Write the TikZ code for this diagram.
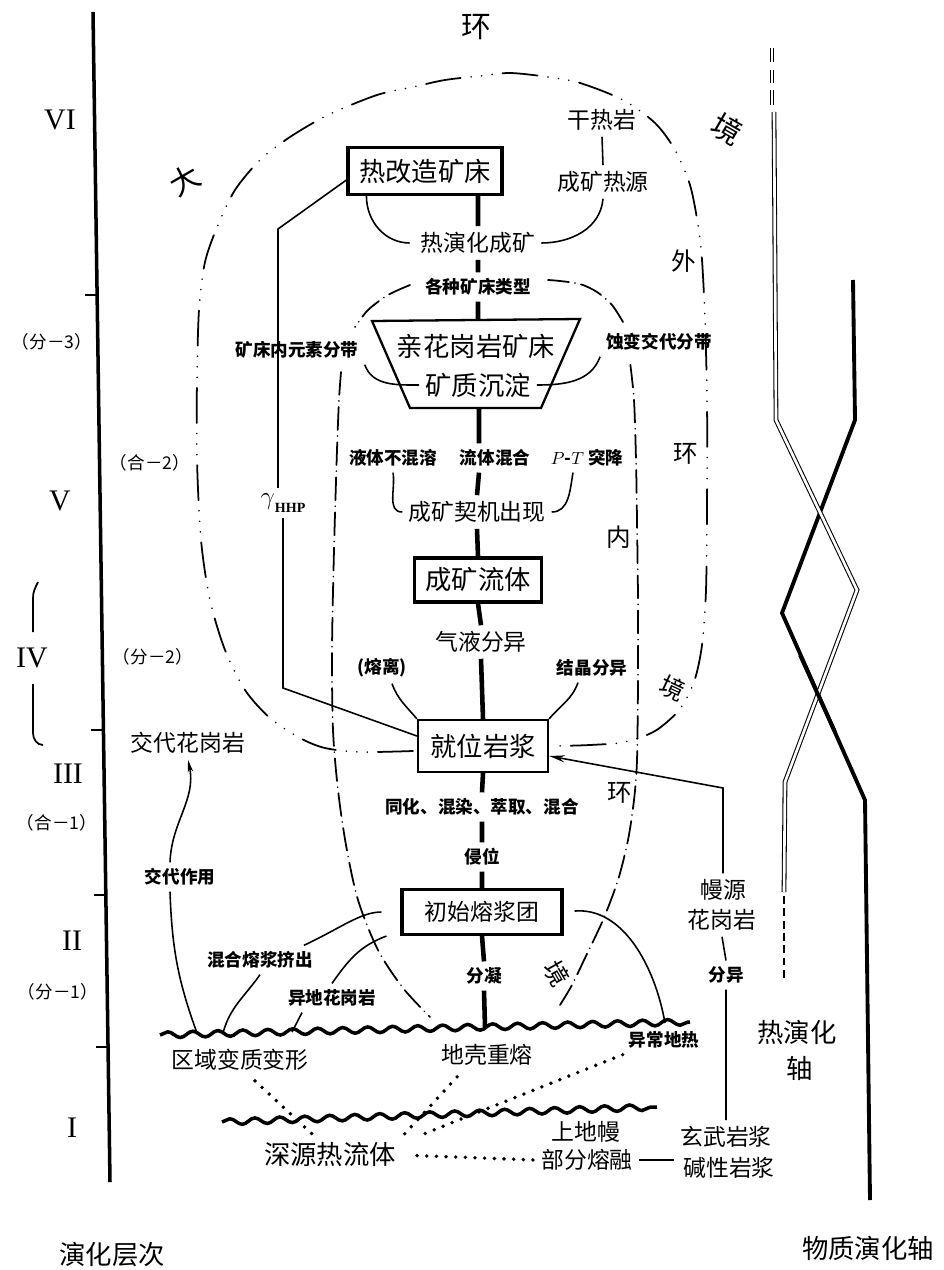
\documentclass[tikz,border=0pt]{standalone}
\usepackage{fontspec}
\setmainfont{Noto Sans CJK SC}
\newfontfamily\romanfont{Liberation Serif}
\usetikzlibrary{arrows.meta,decorations.pathmorphing}

\begin{document}
\begin{tikzpicture}[x=0.02cm,y=-0.02cm,
  txtbig/.style={font=\fontsize{15}{17}\selectfont},
  txtmid/.style={font=\fontsize{13}{15}\selectfont},
  txtsml/.style={font=\bfseries\fontsize{10}{12}\selectfont},
  txtenv/.style={font=\fontsize{14}{16}\selectfont},
  txtouter/.style={font=\fontsize{17}{19}\selectfont},
  txtlevel/.style={font=\romanfont\fontsize{17}{19}\selectfont},
  txtsub/.style={font=\fontsize{10}{12}\selectfont},
  plainbox/.style={draw,line width=1.3pt},
  heavybox/.style={draw,line width=1.8pt},
  trunk/.style={line width=2.6pt},
  link/.style={line width=0.9pt},
  bigenv/.style={line width=1pt,line cap=round,
    dash pattern=on 20pt off 6pt on 0pt off 6pt on 0pt off 6pt on 0pt off 6pt},
  smallenv/.style={line width=1pt,line cap=round,
    dash pattern=on 13pt off 3.5pt on 0pt off 3.5pt},
  crust/.style={line width=2pt,decorate,
    decoration={snake,segment length=0.5cm,amplitude=0.06cm}},
  dotrow/.style={line width=2.2pt,line cap=round,dash pattern=on 0pt off 5.5pt}]
\useasboundingbox (0,0) rectangle (943,1270);

% axis of levels
\draw[line width=2pt] (93,12) -- (110,1182);
\foreach \y/\x in {295/97,730/103,895/106,1047/108}
  \draw[line width=1.2pt] (\x-12,\y) -- (\x,\y);
\draw[line width=1pt] (38,582) to[out=-115,in=90] (33,598) -- (33,632);
\draw[line width=1pt] (33,684) -- (33,733) to[out=-90,in=180] (43,745);

\node[txtlevel] (l6) at (60,120) {VI};
\node[txtsub] (f3) at (52,342) {（分－3）};
\node[txtsub] (h2) at (150,463) {（合－2）};
\node[txtlevel] (l5) at (60,501) {V};
\node[txtlevel] (l4) at (32,658) {IV};
\node[txtsub] (f2) at (153,657) {（分－2）};
\node[txtlevel] (l3) at (68,774) {III};
\node[txtsub] (h1) at (57,823) {（合－1）};
\node[txtlevel] (l2) at (72,941) {II};
\node[txtsub] (f1) at (58,992) {（分－1）};
\node[txtlevel] (l1) at (72,1128) {I};
\node[txtbig] (cc) at (112,1255) {演化层次};

% environment boundaries
\draw[bigenv] plot[smooth] coordinates {(413,751) (360,752) (325,748) (300,738)
  (270,718) (245,690) (225,650) (210,600) (201,540) (197,460) (197,380) (199,310)
  (205,262) (218,225) (235,190) (260,160) (290,137) (328,115) (377,95) (413,87)
  (445,80) (480,76) (510,73) (548,77) (580,83) (623,100) (655,123) (675,150)
  (690,185) (698,225) (702,260) (705,320) (707,400) (707,500) (706,590) (702,645)
  (694,682) (679,710) (655,731) (625,742) (590,745) (556,746)};
\draw[smallenv] plot[smooth] coordinates {(560,1005) (572,985) (585,958) (603,920)
  (618,880) (628,840) (634,800) (637,760) (638,680) (638,600) (637,520) (636,460)
  (634,400) (630,362)};
\draw[smallenv] plot[smooth] coordinates {(623,322) (612,305) (597,292) (580,284)
  (560,281) (548,280)};
\draw[smallenv] plot[smooth] coordinates {(410,285) (388,295) (368,310) (355,327)};
\draw[smallenv] plot[smooth] coordinates {(341,372) (339,400) (337,450) (334,550)
  (332,650) (333,730) (338,790) (346,845) (358,900) (378,950) (403,988) (430,1017)};

\node[txtouter,rotate=30] (e1) at (185,180) {大};
\node[txtouter] (e2) at (476,27) {环};
\node[txtouter,rotate=-30] (e3) at (727,129) {境};
\node[txtenv] (w1) at (684,261) {外};
\node[txtenv] (w2) at (686,454) {环};
\node[txtenv,rotate=-25] (w3) at (673,688) {境};
\node[txtenv] (n1) at (619,537) {内};
\node[txtenv] (n2) at (620,793) {环};
\node[txtenv,rotate=-60] (n3) at (557,973) {境};

% main column
\node[heavybox,txtbig,minimum width=3.08cm,minimum height=0.94cm] (hgz) at (425,171) {热改造矿床};
\node[txtmid] (grs) at (602,120) {干热岩};
\node[txtmid] (crs) at (603,182) {成矿热源};
\node[txtmid] (ryh) at (478,243) {热演化成矿};
\node[txtsml] (gzl) at (478,287) {各种矿床类型};
\coordinate (ttop) at (478,320);
\coordinate (tbot) at (479,408);
\draw[line width=1.3pt] (372,321) -- (580,319) -- (541,408) -- (410,408) -- cycle;
\node[txtbig] (qhg) at (476,346) {亲花岗岩矿床};
\node[txtbig] (kzc) at (478,385) {矿质沉淀};
\node[txtsml] (ysfd) at (297,350) {矿床内元素分带};
\node[txtsml] (sbjd) at (659,342) {蚀变交代分带};
\node[txtsml] (ybh) at (393,458) {液体不混溶};
\node[txtsml] (lth) at (495,458) {流体混合};
\node[txtsml] (pt) at (587,458) {$P$-$T$ 突降};
\node[txtmid] (qjcx) at (477,512) {成矿契机出现};
\node[heavybox,txtbig,minimum width=2.54cm,minimum height=0.88cm] (clt) at (478,580) {成矿流体};
\node[txtmid] (qyfy) at (481,642) {气液分异};
\node[txtsml] (rl) at (382,668) {(熔离)};
\node[txtsml] (jjfy) at (592,668) {结晶分异};
\node[plainbox,txtbig,minimum width=2.6cm,minimum height=1.04cm] (jwyj) at (483,746) {就位岩浆};
\node[txtsml] (thr) at (482,807) {同化、混染、萃取、混合};
\node[txtsml] (qw) at (482,857) {侵位};
\node[heavybox,txtmid,minimum width=3.2cm,minimum height=0.9cm] (csrj) at (482,912) {初始熔浆团};
\node[txtsml] (fn) at (484,976) {分凝};
\node[font=\fontsize{15}{17}\selectfont] (gam) at (283,503)
  {$\gamma$\raisebox{-0.5ex}{\romanfont\bfseries\fontsize{8}{9}\selectfont HHP}};

% lower part
\node[txtmid] (jdhgy) at (188,743) {交代花岗岩};
\node[txtsml] (jdzy) at (180,877) {交代作用};
\node[txtsml] (hhjc) at (260,960) {混合熔浆挤出};
\node[txtsml] (ydhgy) at (332,998) {异地花岗岩};
\node[txtmid] (qybz) at (240,1060) {区域变质变形};
\node[txtmid] (dkcr) at (487,1055) {地壳重熔};
\node[txtsml] (ycdr) at (664,1040) {异常地热};
\node[txtbig] (syrl) at (330,1155) {深源热流体};
\node[txtmid] (sdm) at (586,1132) {上地幔};
\node[txtmid] (bfrr) at (587,1160) {部分熔融};
\node[txtmid] (xwyj) at (726,1137) {玄武岩浆};
\node[txtmid] (jxyj) at (729,1168) {碱性岩浆};
\node[txtmid] (my) at (723,890) {幔源};
\node[txtmid] (hgy) at (722,920) {花岗岩};
\node[txtsml] (fy) at (726,975) {分异};
\node[txtbig] (ryz1) at (797,1032) {热演化};
\node[txtbig] (ryz2) at (800,1068) {轴};
\node[txtbig] (wzz) at (868,1248) {物质演化轴};

% crust and mantle
\draw[crust] (160,1035) -- (690,1022);
\draw[crust] (222,1122) -- (657,1107);
\coordinate (c1) at (197,1033);
\coordinate (c2) at (223,1033);
\coordinate (c3) at (292,1032);
\coordinate (crmid) at (485,1027);
\coordinate (c4) at (665,1023);

% trunk
\draw[trunk] (hgz.south -| ryh.north) -- (ryh.north)
  (ryh.south) -- (gzl.north)
  (gzl.south) -- (ttop)
  (tbot) -- (tbot |- lth.north)
  (tbot |- lth.south) -- (qjcx.north)
  (qjcx.south) -- (clt.north)
  (clt.south) -- (qyfy.north)
  (qyfy.south) -- (jwyj.north)
  (jwyj.south) -- (thr.north)
  (thr.south) -- (qw.north)
  (qw.south) -- (csrj.north)
  (csrj.south) -- (fn.north)
  (fn.south) -- (crmid);

% side links
\draw[link] ([xshift=0.4cm]hgz.south west) to[out=-90,in=180] ([xshift=-0.1cm]ryh.west);
\draw[link] (grs.south) -- (crs.north);
\draw[link] (crs.south) to[out=-95,in=0] (ryh.east);
\draw[link] (ysfd.south east) to[out=-70,in=180] (kzc.west);
\draw[link] (sbjd.south west) to[out=-110,in=0] (kzc.east);
\draw[link] (ybh.south) to[out=-80,in=180] (qjcx.west);
\draw[link] ([xshift=-0.28cm]pt.south) to[out=-100,in=0] (qjcx.east);
\draw[link] ([xshift=0.2cm]rl.south) to[out=-70,in=130] (jwyj.north west);
\draw[link] ([xshift=-0.28cm]jjfy.south) to[out=-110,in=50] (jwyj.north east);
\coordinate (g1) at (278,229);
\coordinate (g2) at (283,688);
\draw[link] ([yshift=-0.18cm]hgz.west) -- (g1) -- (gam.north -| g1)
  (gam.south -| g2) -- (g2) -- ([yshift=0.2cm]jwyj.west);
\coordinate (m1) at (723,788);
\draw[link,-{Stealth[length=9pt,width=4pt]}] (my.north) -- (m1) -- ([yshift=-0.2cm]jwyj.east);
\draw[link] (hgy.south) -- (fy.north) (fy.south) -- (xwyj.north);
\draw[link] (bfrr.east) -- (bfrr.east -| xwyj.west);
\draw[link,-{Stealth[length=7pt,width=3pt]}] ([xshift=-0.2cm]jdzy.north) to[out=88,in=-78] (jdhgy.south);
\draw[link] ([xshift=-0.2cm]jdzy.south) to[out=-88,in=110] (c1);
\draw[link] (hhjc.south) to[out=-125,in=75] (c2);
\draw[link] ([xshift=-0.6cm]ydhgy.south) -- (c3);
\draw[link,shorten <=0.38cm] (csrj.west) to[out=180,in=25] ([xshift=-0.3cm]hhjc.north east);
\draw[link] ([xshift=-0.28cm]csrj.south west) to[out=200,in=55] (ydhgy.north);
\draw[link,shorten <=0.22cm] (csrj.east) to[out=5,in=100] (c4);

% dotted links
\draw[dotrow] ([xshift=0.3cm,yshift=-0.08cm]qybz.south) -- ([xshift=-0.3cm]syrl.north);
\draw[dotrow] ([xshift=0.44cm,yshift=-0.1cm]dkcr.south west) -- (syrl.north east);
\draw[dotrow] (ycdr.south west) -- ([xshift=0.3cm]syrl.north east);
\draw[dotrow,shorten <=0.3cm] (syrl.east) -- (bfrr.west);

% right axes
\draw[line width=2.2pt] (853,280) -- (855,420) -- (782,613) -- (865,800) -- (870,1200);
\foreach \ya/\yb in {48/62,70/83,90/105}
  \draw[double,double distance=1.5pt,line width=0.6pt] (772,\ya) -- (772,\yb);
\draw[double,double distance=1.5pt,line width=0.6pt] (774,112) -- (776,420) -- (857,590) -- (785,782) -- (784,892);
\draw[line width=2.2pt] (800,655) -- (835,732);
\draw[line width=0.8pt,dash pattern=on 4.5pt off 2.5pt] (784,896) -- (784,982);
\end{tikzpicture}
\end{document}
